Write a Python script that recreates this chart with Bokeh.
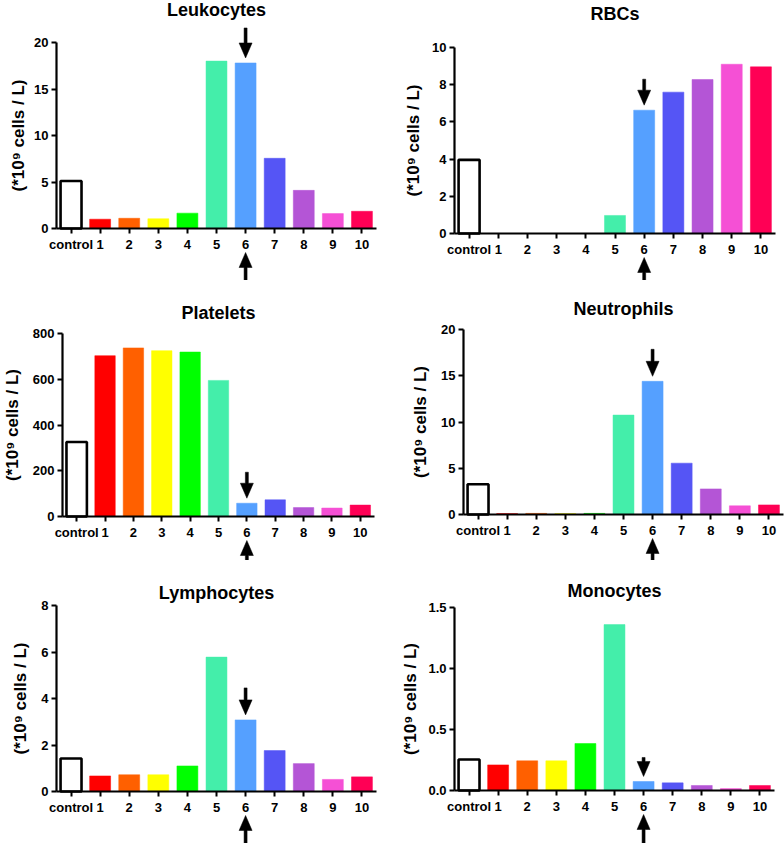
from bokeh.plotting import figure
from bokeh.layouts import gridplot
from bokeh.models import (FixedTicker, PolyAnnotation, Range1d, Label,
                          NumeralTickFormatter, ColumnDataSource)
from bokeh.embed import file_html
from bokeh.resources import INLINE

# ---------------- data ----------------
categories = ["control", "1", "2", "3", "4", "5", "6", "7", "8", "9", "10"]
bar_colors = ["#FFFFFF", "#FF0000", "#FF6000", "#FFFF00", "#00FF00", "#44EEAA",
              "#55A0FF", "#5555F5", "#B455D6", "#F550D5", "#FF0055"]
highlight = "6"

leukocytes = [5.1, 1.0, 1.1, 1.05, 1.65, 18.0, 17.8, 7.55, 4.1, 1.6, 1.85]
rbcs = [3.96, 0.0, 0.0, 0.0, 0.0, 0.97, 6.63, 7.6, 8.28, 9.1, 8.96]
platelets = [326, 703, 737, 725, 719, 595, 58, 73, 39, 37, 50]
neutrophils = [3.27, 0.1, 0.12, 0.1, 0.12, 10.75, 14.4, 5.55, 2.77, 0.94, 1.04]
lymphocytes = [1.42, 0.67, 0.72, 0.72, 1.1, 5.78, 3.08, 1.76, 1.2, 0.52, 0.63]
monocytes = [0.254, 0.21, 0.243, 0.243, 0.385, 1.36, 0.074, 0.063, 0.041, 0.016, 0.041]

leuko_ticks = [0, 5, 10, 15, 20]
rbc_ticks = [0, 2, 4, 6, 8, 10]
plt_ticks = [0, 200, 400, 600, 800]
neut_ticks = [0, 5, 10, 15, 20]
lymph_ticks = [0, 2, 4, 6, 8]
mono_ticks = [0.0, 0.5, 1.0, 1.5]

y_label = "(*10\u2079 cells / L)"
FONT = "Liberation Sans"


def arrow_poly(x0, y_tip, direction, length_px, ppx, ppy):
    """Filled arrow outline; direction=-1 points down, +1 points up."""
    hw = 6.5 / ppx      # half head width
    sw = 1.5 / ppx      # half shaft width
    hl = 15.0 / ppy     # head length
    L = length_px / ppy
    s = -direction      # tail lies opposite to pointing direction
    base = y_tip + s * hl
    tail = y_tip + s * L
    xs = [x0 - sw, x0 + sw, x0 + sw, x0 + hw, x0, x0 - hw, x0 - sw]
    ys = [tail, tail, base, base, y_tip, base, base]
    return PolyAnnotation(xs=xs, ys=ys, fill_color="black", fill_alpha=1.0,
                          line_color="black", line_alpha=1.0, line_width=0.5)


def panel(title, values, yticks, fmt, width, height, left, right,
          y_top_px, y_zero_px, title_px, arrow_px=27, label_standoff=4):
    """Frame covers the whole figure; axes are placed at fixed data locations.
    left/right: pixel margins beside the category axis; y_top_px / y_zero_px:
    pixel rows of ymax and 0; title_px: pixel row of the title centre."""
    ymax = yticks[-1]
    n = len(categories)
    xs = list(range(n))
    ppx = (width - left - right) / n
    ppy = (y_zero_px - y_top_px) / ymax
    x_lo = -0.5 - left / ppx
    x_hi = n - 0.5 + right / ppx
    y_hi = ymax + y_top_px / ppy
    y_lo = -(height - y_zero_px) / ppy
    p = figure(width=width, height=height, output_backend="svg",
               toolbar_location=None,
               x_range=Range1d(x_lo, x_hi),
               y_range=Range1d(y_lo, y_hi),
               min_border_left=0, min_border_right=0,
               min_border_top=0, min_border_bottom=0)
    p.outline_line_color = None
    p.xgrid.visible = False
    p.ygrid.visible = False
    p.background_fill_color = "white"

    line_colors = ["black" if c == "#FFFFFF" else c for c in bar_colors]
    line_widths = [2.6 if c == "#FFFFFF" else 0.5 for c in bar_colors]
    src = ColumnDataSource(dict(x=xs, top=values, fill=bar_colors,
                                line=line_colors, lw=line_widths))
    p.vbar(x="x", top="top", width=0.72, bottom=0, source=src,
           fill_color="fill", line_color="line", line_width="lw")

    # title
    p.add_layout(Label(x=(n - 1) / 2, y=ymax + (y_top_px - title_px) / ppy,
                       text=title, text_align="center", text_baseline="middle",
                       text_font=FONT, text_font_size="18px",
                       text_font_style="bold", text_color="black"))

    for ax in (p.xaxis[0], p.yaxis[0]):
        ax.axis_line_width = 2.2
        ax.axis_line_color = "black"
        ax.major_tick_line_width = 2
        ax.major_tick_line_color = "black"
        ax.major_tick_in = 0
        ax.major_tick_out = 5
        ax.minor_tick_line_color = None
        ax.major_label_text_font = FONT
        ax.major_label_text_font_style = "bold"
        ax.major_label_text_font_size = "13px"
        ax.major_label_text_color = "black"

    p.xaxis.ticker = FixedTicker(ticks=xs)
    p.xaxis.major_label_overrides = {i: c for i, c in enumerate(categories)}
    p.xaxis.major_label_standoff = 3
    p.xaxis.fixed_location = 0
    p.xaxis.bounds = (-0.5, n - 0.5)

    p.yaxis.ticker = FixedTicker(ticks=yticks)
    p.yaxis.bounds = (0, ymax)
    p.yaxis.fixed_location = -0.5
    p.yaxis.formatter = NumeralTickFormatter(format=fmt)
    p.yaxis.major_label_standoff = 3
    p.yaxis.axis_label = y_label
    p.yaxis.axis_label_text_font = FONT
    p.yaxis.axis_label_text_font_style = "bold"
    p.yaxis.axis_label_text_font_size = "17px"
    p.yaxis.axis_label_text_color = "black"
    p.yaxis.axis_label_standoff = label_standoff

    # arrows marking the highlighted sample
    hi = categories.index(highlight)
    v = values[hi]
    p.add_layout(arrow_poly(hi, v + 5.0 / ppy, -1, arrow_px, ppx, ppy))
    p.add_layout(arrow_poly(hi, -24.0 / ppy, +1, 60, ppx, ppy))
    return p


p1 = panel("Leukocytes", leukocytes, leuko_ticks, "0", 392, 280, 56, 16, 42, 228, 9,
           arrow_px=30, label_standoff=3)
p2 = panel("RBCs", rbcs, rbc_ticks, "0", 392, 280, 62, 9, 47, 233, 13, arrow_px=26,
           label_standoff=6)
p3 = panel("Platelets", platelets, plt_ticks, "0", 392, 280, 62, 18, 53, 236, 32,
           arrow_px=26, label_standoff=8)
p4 = panel("Neutrophils", neutrophils, neut_ticks, "0", 392, 280, 71, 1, 49, 234, 28,
           label_standoff=8)
p5 = panel("Lymphocytes", lymphocytes, lymph_ticks, "0", 392, 283, 56, 16, 45, 231, 32,
           label_standoff=8)
p6 = panel("Monocytes", monocytes, mono_ticks, "0.0", 392, 283, 62, 10, 47, 230, 30,
           arrow_px=19, label_standoff=5)

grid = gridplot([[p1, p2], [p3, p4], [p5, p6]], toolbar_location=None)

open("out.html", "w").write(file_html(grid, INLINE))
